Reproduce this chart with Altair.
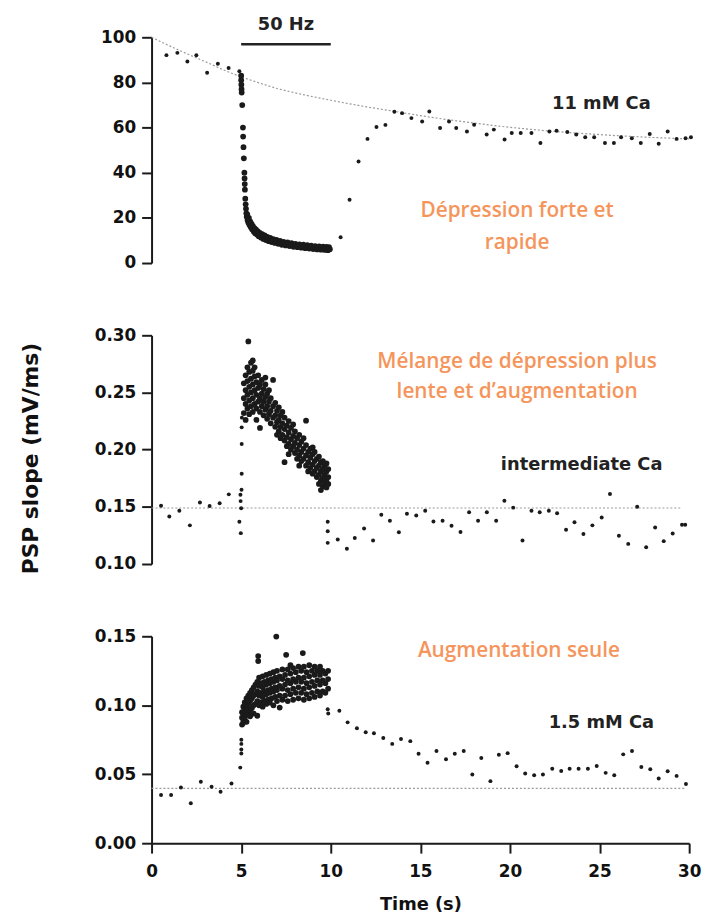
import altair as alt
import pandas as pd

# ---------------- data ----------------
# Top panel: 11 mM Ca (PSP slope, % of initial)
top_pre_t = [0.83, 1.44, 2.0, 2.5, 3.1, 3.7, 4.3, 4.9]
top_pre_v = [92.1, 93.1, 89.3, 92.0, 84.3, 88.3, 86.4, 85.0]

top_train_t = [5.00, 5.00, 5.01, 5.02, 5.03, 5.06, 5.10, 5.11, 5.13, 5.15, 5.18, 5.19, 5.20, 5.21,
               5.23, 5.25, 5.27, 5.29, 5.31, 5.34, 5.36, 5.40, 5.43, 5.46, 5.50, 5.53, 5.57, 5.61,
               5.65, 5.70, 5.74, 5.78, 5.83, 5.88, 5.93, 5.98, 6.04, 6.10, 6.17, 6.24, 6.31, 6.38,
               6.46, 6.54, 6.62, 6.70, 6.79, 6.88, 6.97, 7.07, 7.17, 7.27, 7.37, 7.48, 7.59, 7.70,
               7.81, 7.92, 8.03, 8.14, 8.25, 8.36, 8.47, 8.58, 8.69, 8.80, 8.91, 9.02, 9.13, 9.24,
               9.35, 9.46, 9.57, 9.68, 9.76, 9.84, 9.90, 9.95]
top_train_v = [83.0, 81.0, 79.0, 77.0, 75.5, 70.0, 60.0, 56.0, 51.3, 46.4, 40.0, 37.5, 35.0, 32.5,
               28.5, 26.0, 24.0, 22.0, 20.5, 21.5, 19.0, 18.0, 20.0, 17.0, 18.5, 16.0, 17.5, 15.0,
               16.5, 14.0, 15.5, 13.2, 14.8, 12.6, 14.0, 11.9, 13.4, 11.3, 12.8, 10.7, 12.2, 10.2,
               11.6, 9.7, 11.1, 9.3, 10.6, 8.9, 10.2, 8.5, 9.8, 8.1, 9.4, 7.8, 9.1, 7.5,
               8.8, 7.2, 8.5, 7.0, 8.3, 6.8, 8.1, 6.6, 7.9, 6.4, 7.7, 6.2, 7.5, 6.0,
               7.4, 5.9, 7.3, 5.8, 7.2, 5.7, 7.0, 6.1]

top_post_t = [10.55, 11.05, 11.55, 12.05, 12.55, 13.05, 13.55, 13.98, 14.5, 15.1, 15.5, 16.1, 16.6,
              17.0, 17.6, 18.0, 18.7, 19.1, 19.7, 20.1, 20.6, 21.2, 21.7, 22.2, 22.6, 23.2, 23.7,
              24.2, 24.7, 25.3, 25.8, 26.2, 26.8, 27.3, 27.8, 28.3, 28.8, 29.3, 29.8, 30.1]
top_post_v = [11.4, 28.0, 45.0, 55.0, 60.3, 61.2, 67.0, 66.4, 64.2, 62.7, 67.1, 59.8, 62.7,
              59.8, 58.3, 61.3, 56.9, 59.1, 54.7, 57.6, 57.6, 57.6, 53.2, 58.3, 58.6, 58.0, 56.9,
              55.7, 55.7, 53.2, 53.2, 55.7, 55.3, 53.2, 57.2, 52.8, 58.3, 55.0, 55.3, 55.7]

top_fit_t = [0, 1, 2, 3, 4, 5, 6, 7, 8, 9, 10, 11, 12, 13, 14, 15, 16, 17, 18, 19, 20, 22, 24, 26, 28, 30]
top_fit_v = [100, 96.2, 92.6, 89.2, 85.6, 82.4, 79.8, 77.3, 75.4, 73.7, 72.1, 70.6, 69.2, 67.9, 66.6,
             65.3, 64.1, 63.0, 62.0, 61.0, 60.1, 58.6, 57.4, 56.4, 55.6, 55.0]

# Middle panel: intermediate Ca (mV/ms)
mid_pre_t = [0.53, 0.99, 1.55, 2.14, 2.70, 3.24, 3.80, 4.31, 4.96, 4.97, 4.90, 4.98, 5.00,
             5.02, 5.03, 5.03, 5.03, 5.04]
mid_pre_v = [0.151, 0.1416, 0.1465, 0.1338, 0.1537, 0.1508, 0.1531, 0.1609, 0.1606, 0.155, 0.137,
             0.127, 0.1487, 0.165, 0.179, 0.205, 0.2195, 0.228]

mid_train = {
    5.15: [0.232, 0.245, 0.258], 5.25: [0.240, 0.252, 0.265, 0.226], 5.35: [0.236, 0.248, 0.260, 0.272],
    5.40: [0.2946], 5.45: [0.243, 0.255, 0.268, 0.231], 5.55: [0.238, 0.250, 0.262, 0.276],
    5.65: [0.245, 0.257, 0.269, 0.233, 0.278], 5.75: [0.240, 0.252, 0.264, 0.272],
    5.85: [0.236, 0.248, 0.259, 0.226], 5.95: [0.242, 0.254, 0.265], 6.05: [0.233, 0.245, 0.257, 0.219],
    6.15: [0.238, 0.249, 0.261], 6.25: [0.230, 0.242, 0.253], 6.35: [0.235, 0.246, 0.257, 0.263],
    6.45: [0.227, 0.238, 0.249], 6.55: [0.231, 0.242, 0.252], 6.65: [0.223, 0.234, 0.245],
    6.78: [0.228, 0.238, 0.261], 6.90: [0.220, 0.230, 0.241], 7.00: [0.224, 0.234, 0.213],
    7.10: [0.216, 0.226, 0.237], 7.20: [0.220, 0.230, 0.210], 7.30: [0.213, 0.223, 0.233],
    7.42: [0.208, 0.218, 0.228, 0.189], 7.55: [0.211, 0.221, 0.203], 7.65: [0.205, 0.215, 0.225, 0.196],
    7.78: [0.209, 0.219, 0.200], 7.90: [0.203, 0.212, 0.222], 8.00: [0.197, 0.206, 0.216],
    8.12: [0.200, 0.210, 0.192], 8.24: [0.195, 0.204, 0.213, 0.186], 8.36: [0.198, 0.207, 0.190],
    8.48: [0.192, 0.201, 0.210], 8.62: [0.186, 0.195, 0.204, 0.2253], 8.74: [0.189, 0.198, 0.181],
    8.86: [0.184, 0.193, 0.201], 8.99: [0.187, 0.196, 0.179, 0.202], 9.10: [0.181, 0.190, 0.198],
    9.22: [0.184, 0.192, 0.176], 9.34: [0.178, 0.186, 0.194, 0.170], 9.45: [0.181, 0.189, 0.1647, 0.173],
    9.56: [0.175, 0.183, 0.190, 0.168], 9.66: [0.178, 0.186, 0.171], 9.76: [0.174, 0.181, 0.188, 0.167],
    9.86: [0.176, 0.183, 0.170],
}

mid_post_t = [9.83, 9.83, 9.83, 10.39, 10.90, 11.34, 11.86, 12.36, 12.82, 13.30, 13.80, 14.25, 14.77,
              15.27, 15.73, 16.24, 16.74, 17.24, 17.72, 18.22, 18.71, 19.23, 19.69, 20.18, 20.70,
              21.20, 21.66, 22.17, 22.63, 23.13, 23.60, 24.10, 24.60, 25.12, 25.58, 26.08, 26.60,
              27.10, 27.60, 28.10, 28.58, 29.08, 29.60, 29.78]
mid_post_v = [0.137, 0.1286, 0.1185, 0.1214, 0.1133, 0.1228, 0.131, 0.1205, 0.143, 0.1378, 0.1277,
              0.1439, 0.1424, 0.1465, 0.1372, 0.1378, 0.1335, 0.128, 0.1453, 0.1378, 0.1453, 0.1378,
              0.1554, 0.1493, 0.1205, 0.1465, 0.1453, 0.1465, 0.1444, 0.130, 0.1366, 0.1262, 0.1338,
              0.1407, 0.1612, 0.1248, 0.1176, 0.150, 0.1147, 0.132, 0.120, 0.1266, 0.1344, 0.1344]

mid_fit_t = [0, 29.6]
mid_fit_v = [0.149, 0.149]

# Bottom panel: 1.5 mM Ca (mV/ms)
bot_pre_t = [0.53, 1.09, 1.64, 2.19, 2.75, 3.35, 3.85, 4.46, 4.95, 5.01, 5.01, 5.01, 5.01, 5.14, 5.14, 5.14]
bot_pre_v = [0.035, 0.035, 0.0404, 0.0289, 0.0445, 0.0409, 0.0373, 0.0433, 0.0548,
             0.065, 0.068, 0.072, 0.075, 0.0864, 0.090, 0.0935]

bot_train = {
    5.05: [0.086, 0.091, 0.095], 5.12: [0.088, 0.094, 0.099], 5.20: [0.090, 0.096, 0.102],
    5.30: [0.093, 0.099, 0.105, 0.088], 5.40: [0.095, 0.101, 0.107], 5.50: [0.097, 0.103, 0.109, 0.092],
    5.60: [0.098, 0.105, 0.111], 5.70: [0.100, 0.107, 0.113, 0.094], 5.80: [0.101, 0.108, 0.115],
    5.90: [0.103, 0.110, 0.117, 0.0924], 5.95: [0.1357, 0.132], 6.00: [0.100, 0.107, 0.114, 0.120],
    6.10: [0.102, 0.109, 0.116], 6.20: [0.099, 0.106, 0.113, 0.121], 6.30: [0.103, 0.110, 0.117],
    6.40: [0.101, 0.108, 0.115, 0.122], 6.50: [0.104, 0.111, 0.118], 6.60: [0.102, 0.109, 0.116, 0.123],
    6.70: [0.105, 0.112, 0.119], 6.80: [0.100, 0.110, 0.117, 0.124], 6.90: [0.106, 0.113, 0.120],
    6.96: [0.1498], 7.00: [0.103, 0.111, 0.118, 0.125], 7.15: [0.0983, 0.107, 0.114, 0.121],
    7.30: [0.104, 0.112, 0.119, 0.126], 7.45: [0.107, 0.115, 0.122], 7.51: [0.1366],
    7.60: [0.103, 0.111, 0.118, 0.126], 7.75: [0.108, 0.116, 0.123, 0.129], 7.90: [0.104, 0.112, 0.119, 0.127],
    8.05: [0.109, 0.117, 0.124], 8.20: [0.105, 0.113, 0.120, 0.128], 8.35: [0.109, 0.117, 0.125],
    8.44: [0.1378], 8.50: [0.104, 0.112, 0.120, 0.128], 8.65: [0.108, 0.116, 0.124],
    8.80: [0.105, 0.113, 0.121, 0.129], 8.95: [0.109, 0.117, 0.125], 9.10: [0.106, 0.114, 0.122, 0.128],
    9.25: [0.110, 0.118, 0.125], 9.40: [0.107, 0.115, 0.122, 0.128], 9.55: [0.110, 0.118, 0.125],
    9.70: [0.109, 0.116, 0.123], 9.85: [0.112, 0.119, 0.125],
}

bot_post_t = [9.83, 9.86, 10.48, 10.94, 11.46, 11.95, 12.41, 12.93, 13.43, 13.92, 14.44, 14.90, 15.40,
              15.90, 16.43, 16.92, 17.42, 17.90, 18.40, 18.91, 19.38, 19.87, 20.37, 20.85, 21.35,
              21.84, 22.36, 22.86, 23.33, 23.83, 24.35, 24.84, 25.34, 25.82, 26.32, 26.81, 27.33,
              27.83, 28.30, 28.80, 29.30, 29.82]
bot_post_v = [0.0971, 0.094, 0.096, 0.0876, 0.0833, 0.0804, 0.0797, 0.0763, 0.072, 0.0756, 0.074,
              0.0648, 0.0584, 0.0668, 0.0608, 0.0648, 0.0668, 0.0498, 0.0617, 0.045, 0.0641, 0.0653,
              0.0558, 0.0505, 0.0493, 0.0498, 0.054, 0.0524, 0.054, 0.054, 0.054, 0.056, 0.051,
              0.0493, 0.0644, 0.0668, 0.0553, 0.0536, 0.0469, 0.0522, 0.0488, 0.0429]

bot_fit_t = [0, 29.8]
bot_fit_v = [0.0397, 0.0397]

# annotations (text, time, value)
top_notes = [("50  Hz", 7.5, 105.5), ("11  mM  Ca", 25.1, 70.6)]
top_orange = [("Dépression forte et", 20.4, 23.2), ("rapide", 20.4, 8.8)]
mid_notes = [("intermediate    Ca", 24.0, 0.1866)]
mid_orange = [("Mélange de dépression plus", 20.4, 0.2766), ("lente et d’augmentation", 20.4, 0.2504)]
bot_notes = [("1.5  mM  Ca", 25.1, 0.0869)]
bot_orange = [("Augmentation seule", 20.5, 0.1393)]
stim_bar = {"t0": [5.0], "t1": [10.0], "v": [96.9]}

x_ticks = [0, 5, 10, 15, 20, 25, 30]
top_ticks = [0, 20, 40, 60, 80, 100]
mid_ticks = [0.10, 0.15, 0.20, 0.25, 0.30]
bot_ticks = [0.00, 0.05, 0.10, 0.15]

ORANGE = "#F5955C"
INK = "#1a1a1a"
W = 543


def flat(d):
    rows = [(t, v) for t, vs in d.items() for v in vs]
    return pd.DataFrame(rows, columns=["t", "v"])


def pts(*pairs):
    frames = [pd.DataFrame({"t": a, "v": b}) for a, b in pairs]
    return pd.concat(frames, ignore_index=True)


def notes_df(lst):
    return pd.DataFrame(lst, columns=["label", "t", "v"])


def panel(points, cloud, fit, notes, orange, domain, ticks, fmt, height, ytitle=None, show_x=False, extra=None):
    if show_x:
        xaxis = alt.Axis(values=x_ticks, format="d", title="Time  (s)", labelFlush=False,
                         labelPadding=11, titlePadding=16, titleFontSize=18)
    else:
        xaxis = None
    x = alt.X("t:Q", scale=alt.Scale(domain=[0, 30], nice=False, zero=False), axis=xaxis)
    ykw = dict(values=ticks, format=fmt)
    if ytitle:
        ykw.update(title=ytitle, titlePadding=52, titleFontSize=22, titleY=124)
    y = alt.Y("v:Q", scale=alt.Scale(domain=domain, nice=False, zero=False), axis=alt.Axis(**ykw),
              title=ytitle if ytitle else "")
    fit_layer = alt.Chart(fit).mark_line(color="#9a9a9a", strokeWidth=1.2, strokeDash=[2, 2]).encode(x=x, y=y)
    pt_layer = alt.Chart(points).mark_circle(size=16, color=INK, opacity=1).encode(x=x, y=y)
    cloud_layer = alt.Chart(cloud).mark_circle(size=34, color=INK, opacity=1).encode(x=x, y=y)
    txt = alt.Chart(notes).mark_text(font="DejaVu Sans", fontWeight="bold", fontSize=18, color="#222",
                                     align="center", baseline="middle").encode(x=x, y=y, text="label:N")
    otxt = alt.Chart(orange).mark_text(font="Open Sans", fontWeight=600, fontSize=21, color=ORANGE,
                                       align="center", baseline="middle").encode(x=x, y=y, text="label:N")
    layers = [fit_layer, pt_layer, cloud_layer, txt, otxt]
    if extra is not None:
        layers.append(extra(x, y))
    return alt.layer(*layers).properties(width=W, height=height)


def bar_layer(x, y):
    return alt.Chart(pd.DataFrame(stim_bar)).mark_rule(color="#222", strokeWidth=2.5).encode(
        x=alt.X("t0:Q", scale=alt.Scale(domain=[0, 30], nice=False, zero=False), axis=None),
        x2="t1:Q", y=y)


top = panel(pts((top_pre_t, top_pre_v), (top_post_t, top_post_v)),
            pts((top_train_t, top_train_v)),
            pd.DataFrame({"t": top_fit_t, "v": top_fit_v}), notes_df(top_notes), notes_df(top_orange),
            [0, 100], top_ticks, "d", 228, extra=bar_layer)

mid = panel(pts((mid_pre_t, mid_pre_v), (mid_post_t, mid_post_v)), flat(mid_train),
            pd.DataFrame({"t": mid_fit_t, "v": mid_fit_v}), notes_df(mid_notes), notes_df(mid_orange),
            [0.10, 0.30], mid_ticks, ".2f", 231, ytitle="PSP  slope  (mV/ms)")

bot = panel(pts((bot_pre_t, bot_pre_v), (bot_post_t, bot_post_v)), flat(bot_train),
            pd.DataFrame({"t": bot_fit_t, "v": bot_fit_v}), notes_df(bot_notes), notes_df(bot_orange),
            [0.0, 0.15], bot_ticks, ".2f", 209, show_x=True)

chart = alt.vconcat(top, mid, bot, spacing=73, bounds="flush").properties(
    padding={"left": 12, "top": 3, "right": 5, "bottom": 5}
).configure_view(stroke=None).configure_axis(
    grid=False, domainColor=INK, domainWidth=2, tickColor=INK, tickWidth=2, tickSize=10,
    labelFont="DejaVu Sans", labelFontWeight="bold", labelFontSize=17, labelColor="#111",
    labelPadding=6, titleFont="DejaVu Sans", titleFontWeight="bold", titleColor="#111"
)

chart.save("out.html", embed_options={"renderer": "svg", "actions": False})
